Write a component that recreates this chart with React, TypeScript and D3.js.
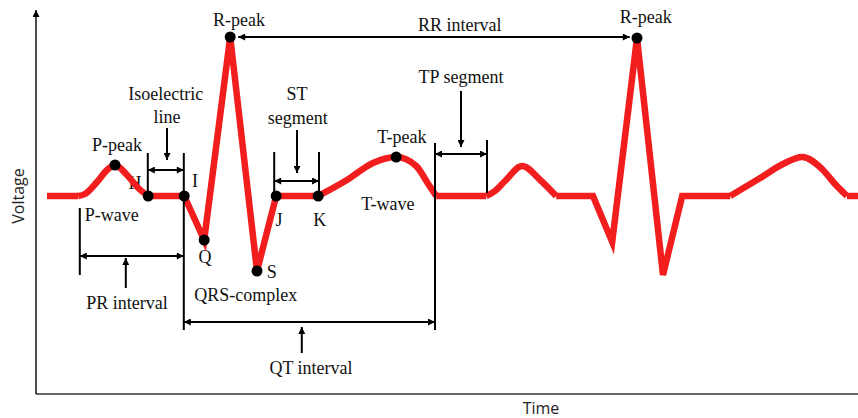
import * as d3 from "d3";

const W = 858;
const H = 418;

type Pt = [number, number]; // [time ms, voltage mV]

// ECG trace, split into sharp (linear) and rounded (wave) pieces
const leadIn: Pt[] = [[0, 0], [78, 0]];
const pWave1: Pt[] = [[78, 0], [95, 0.02], [125, 0.14], [150, 0.26], [170, 0.31], [200, 0.21], [228, 0.08], [253, 0]];
const qrs1: Pt[] = [[253, 0], [343, 0], [393, -0.44], [458, 1.59], [525, -0.75], [573, 0], [678, 0]];
const tWave1: Pt[] = [[678, 0], [750, 0.16], [815, 0.33], [873, 0.39], [923, 0.3], [953, 0.12], [973, 0]];
const tpSeg: Pt[] = [[973, 0], [1098, 0]];
const pWave2: Pt[] = [[1098, 0], [1120, 0.05], [1145, 0.15], [1188, 0.3], [1233, 0.16], [1273, 0]];
const qrs2: Pt[] = [[1273, 0], [1365, 0], [1413, -0.46], [1475, 1.58], [1540, -0.79], [1588, 0], [1708, 0]];
const tWave2: Pt[] = [[1708, 0], [1783, 0.18], [1840, 0.32], [1888, 0.39], [1940, 0.26], [1970, 0.12], [2000, 0]];
const leadOut: Pt[] = [[2000, 0], [2028, 0]];

const sharpPieces = [leadIn, qrs1, tpSeg, qrs2, leadOut];
const wavePieces = [pWave1, tWave1, pWave2, tWave2];

// fiducial points (dots)
const fiducials: Pt[] = [
  [170, 0.31], [253, 0], [343, 0], [393, -0.44], [458, 1.59], [525, -0.75],
  [573, 0], [678, 0], [873, 0.39], [1475, 1.58],
];

// text labels: [text, time, voltage]
const labels: [string, number, number][] = [
  ["R-peak", 480, 1.76],
  ["R-peak", 1497, 1.79],
  ["RR interval", 1032, 1.71],
  ["Isoelectric", 297, 1.02],
  ["line", 300, 0.79],
  ["P-peak", 175, 0.51],
  ["H", 220, 0.13],
  ["I", 370, 0.15],
  ["P-wave", 162, -0.19],
  ["PR interval", 200, -1.07],
  ["Q", 395, -0.61],
  ["S", 562, -0.76],
  ["QRS-complex", 497, -0.99],
  ["QT interval", 660, -1.72],
  ["J", 580, -0.24],
  ["K", 682, -0.24],
  ["ST", 625, 1.02],
  ["segment", 627, 0.78],
  ["T-peak", 887, 0.59],
  ["T-wave", 852, -0.08],
  ["TP segment", 1035, 1.19],
];

// bracket ticks: [time, v from, v to]
const ticks: [number, number, number][] = [
  [252, 0.43, 0.04],
  [342, 0.43, -1.34],
  [568, 0.44, 0.04],
  [680, 0.44, 0.04],
  [970, 0.53, -1.34],
  [1100, 0.56, 0.03],
  [82, -0.12, -0.79],
];

// double-headed interval arrows: [t from, t to, voltage]
const spans: [number, number, number][] = [
  [478, 1457, 1.59],
  [252, 342, 0.26],
  [568, 680, 0.15],
  [970, 1100, 0.42],
  [82, 342, -0.6],
  [342, 970, -1.26],
];

// pointer arrows: [time, v tail, v head]
const pointers: [number, number, number][] = [
  [300, 0.68, 0.36],
  [625, 0.66, 0.23],
  [1035, 1.05, 0.49],
  [197, -0.92, -0.62],
  [637, -1.57, -1.31],
];

const x = d3.scaleLinear().domain([-27.5, 2027.5]).range([36, 858]);
const y = d3.scaleLinear().domain([-1.98, 1.88]).range([394, 8]);

const sharpLine = d3.line<Pt>().x((d) => x(d[0])).y((d) => y(d[1]));
const waveLine = d3
  .line<Pt>()
  .x((d) => x(d[0]))
  .y((d) => y(d[1]))
  .curve(d3.curveMonotoneX);

const RED = "#f21d1d";
const SERIF = "'Liberation Serif', 'Times New Roman', serif";
const SANS = "'Open Sans', 'Liberation Sans', sans-serif";

export default function App() {
  const [t0] = x.domain();
  const [vMin, vMax] = y.domain();
  return (
    <svg
      width={W}
      height={H}
      style={{ position: "absolute", left: 0, top: 0, background: "#fff" }}
    >
      <defs>
        <marker
          id="ah"
          viewBox="0 0 10 10"
          refX={10}
          refY={5}
          markerWidth={9}
          markerHeight={7}
          markerUnits="userSpaceOnUse"
          orient="auto-start-reverse"
        >
          <path d="M0,0L10,5L0,10z" fill="#000" />
        </marker>
      </defs>

      {/* Axes */}
      <line x1={x(t0)} x2={W} y1={y(vMin)} y2={y(vMin)} stroke="#666" strokeWidth={2} />
      <line
        x1={x(t0)}
        x2={x(t0)}
        y1={y(vMin)}
        y2={y(vMax) + 2}
        stroke="#111"
        strokeWidth={1.5}
        markerEnd="url(#ah)"
      />
      <text
        transform={`translate(18,${y(0)}) rotate(-90)`}
        textAnchor="middle"
        dominantBaseline="central"
        fontFamily={SANS}
        fontSize={16}
        fill="#222"
      >
        Voltage
      </text>
      <text
        x={541}
        y={414}
        textAnchor="middle"
        fontFamily={SANS}
        fontSize={16}
        fill="#222"
      >
        Time
      </text>

      {/* Labels (drawn under the trace, H is partly hidden in the original) */}
      {labels.map(([txt, t, v], i) => (
        <text
          key={i}
          x={x(t)}
          y={y(v)}
          textAnchor="middle"
          dominantBaseline="central"
          fontFamily={SERIF}
          fontSize={18}
          fill="#111"
        >
          {txt}
        </text>
      ))}

      {/* ECG trace */}
      {sharpPieces.map((p, i) => (
        <path key={"s" + i} d={sharpLine(p) ?? ""} fill="none" stroke={RED} strokeWidth={6.5} />
      ))}
      {wavePieces.map((p, i) => (
        <path key={"w" + i} d={waveLine(p) ?? ""} fill="none" stroke={RED} strokeWidth={6.5} />
      ))}

      {/* Brackets and arrows */}
      {ticks.map(([t, a, b], i) => (
        <line key={"t" + i} x1={x(t)} x2={x(t)} y1={y(a)} y2={y(b)} stroke="#000" strokeWidth={2} />
      ))}
      {spans.map(([a, b, v], i) => (
        <line
          key={"sp" + i}
          x1={x(a)}
          x2={x(b)}
          y1={y(v)}
          y2={y(v)}
          stroke="#000"
          strokeWidth={2}
          markerStart="url(#ah)"
          markerEnd="url(#ah)"
        />
      ))}
      {pointers.map(([t, a, b], i) => (
        <line
          key={"p" + i}
          x1={x(t)}
          x2={x(t)}
          y1={y(a)}
          y2={y(b)}
          stroke="#000"
          strokeWidth={2}
          markerEnd="url(#ah)"
        />
      ))}

      {/* Fiducial dots */}
      {fiducials.map(([t, v], i) => (
        <circle key={"f" + i} cx={x(t)} cy={y(v)} r={5.5} fill="#000" />
      ))}
    </svg>
  );
}
